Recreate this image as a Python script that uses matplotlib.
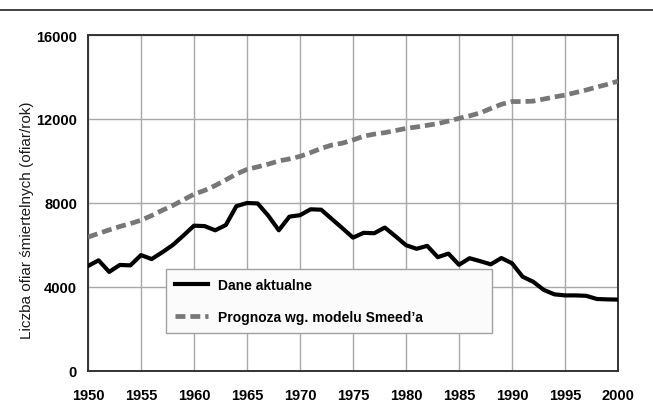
import matplotlib.pyplot as plt
from matplotlib.lines import Line2D

##years on the x axis
years = list(range(1950, 2001))

actual = [5000, 5270, 4720, 5050, 5030, 5520, 5330, 5650, 6000, 6450,
          6920, 6900, 6700, 6950, 7850, 8000, 7980, 7400, 6700, 7350,
          7420, 7700, 7680, 7240, 6800, 6350, 6580, 6560, 6830, 6420,
          5990, 5820, 5960, 5420, 5590, 5060, 5370, 5230, 5080, 5380,
          5130, 4490, 4250, 3860, 3650, 3600, 3600, 3580, 3430, 3410,
          3400]

##forecast by Smeed's model
forecast = [6380, 6550, 6720, 6880, 7020, 7180, 7400, 7650, 7880, 8150,
            8420, 8600, 8830, 9100, 9380, 9600, 9720, 9850, 10000, 10100,
            10220, 10400, 10600, 10760, 10850, 11000, 11180, 11280, 11350, 11450,
            11550, 11620, 11700, 11780, 11900, 12030, 12150, 12290, 12500, 12700,
            12830, 12830, 12850, 12950, 13050, 13140, 13260, 13380, 13520, 13650,
            13800]

x_ticks = list(range(1950, 2001, 5))
y_ticks = [0, 4000, 8000, 12000, 16000]

label_actual = "Dane aktualne"
label_forecast = "Prognoza wg. modelu Smeed\u2019a"
y_label = "Liczba ofiar śmiertelnych (ofiar/rok)"

plt.rcParams["font.family"] = ["Liberation Sans", "DejaVu Sans"]

fig = plt.figure(figsize=(6.53, 4.06), dpi=100)
ax = fig.add_axes([88 / 653, 1 - 372 / 406, 530 / 653, 336 / 406])

##grid behind the data
ax.grid(True, color="#a8a8a8", linewidth=1.0)
ax.set_axisbelow(True)

ax.plot(years, forecast, color="#777777", linewidth=3.4, dashes=(2.1, 1.05),
        label=label_forecast, zorder=3)
ax.plot(years, actual, color="black", linewidth=3.0, solid_joinstyle="round",
        label=label_actual, zorder=4)

ax.set_xlim(1950, 2000)
ax.set_ylim(0, 16000)
ax.set_xticks(x_ticks)
ax.set_yticks(y_ticks)
ax.tick_params(axis="both", length=0, labelsize=10.5)
ax.tick_params(axis="x", pad=12.5)
ax.tick_params(axis="y", pad=8)
for lab in ax.get_xticklabels() + ax.get_yticklabels():
    lab.set_fontweight("bold")

for sp in ax.spines.values():
    sp.set_color("#333333")
    sp.set_linewidth(1.4)

fig.text(27 / 653, 1 - 220 / 406, y_label, rotation=90, ha="center", va="center",
         fontsize=11, color="#1a1a1a")

##legend box, order: actual first
handles, labels = ax.get_legend_handles_labels()
leg = fig.legend(handles[::-1], labels[::-1], loc="upper left",
                 bbox_to_anchor=(166 / 653, 1 - 270 / 406, 326 / 653, 0),
                 mode="expand", fancybox=False, framealpha=1,
                 edgecolor="#a0a0a0", facecolor="#fbfbfb",
                 prop={"weight": "bold", "size": 10},
                 handlelength=2.4, handletextpad=0.7, labelspacing=1.3,
                 borderpad=0.65, borderaxespad=0)
leg.get_frame().set_linewidth(1.0)

##horizontal rule at the top of the page
fig.add_artist(Line2D([0, 1], [1 - 11 / 406, 1 - 11 / 406], color="#333333",
                      linewidth=1.3, transform=fig.transFigure))

fig.savefig("out.png", dpi=100)
